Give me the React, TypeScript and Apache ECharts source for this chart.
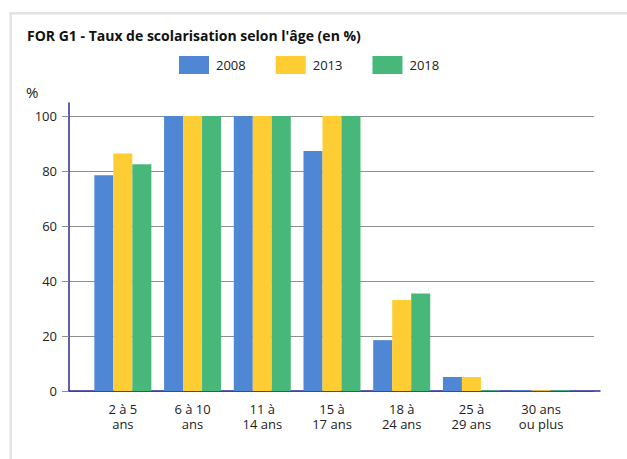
import React, { useEffect, useRef } from "react";
import * as echarts from "echarts";

const categories = [
  "2 à 5\nans",
  "6 à 10\nans",
  "11 à\n14 ans",
  "15 à\n17 ans",
  "18 à\n24 ans",
  "25 à\n29 ans",
  "30 ans\nou plus",
];
const seriesNames = ["2008", "2013", "2018"];
const values2008 = [78.5, 100, 100, 87.3, 18.5, 5.1, 0.3];
const values2013 = [86.4, 100, 100, 100, 33.1, 5.1, 0.3];
const values2018 = [82.5, 100, 100, 100, 35.5, 0.3, 0.3];
const colors = ["#4f87d4", "#fecd33", "#48b87a"];
const yTicks = { min: 0, max: 100, interval: 20 };

const FONT = "'Open Sans', 'Noto Sans', sans-serif";
const AXIS = "#2a2a9a";
const GRIDC = "#8e8e8e";

export default function App() {
  const ref = useRef<HTMLDivElement>(null);
  useEffect(() => {
    if (!ref.current) return;
    const chart = echarts.init(ref.current, null, { renderer: "svg" });
    const all = [values2008, values2013, values2018];
    chart.setOption({
      animation: false,
      textStyle: { fontFamily: FONT },
      title: {
        text: "FOR G1 - Taux de scolarisation selon l'âge (en %)",
        left: 22,
        top: 23,
        textStyle: { fontFamily: FONT, fontSize: 14, fontWeight: "bold", color: "#111" },
      },
      legend: {
        left: 174,
        top: 51,
        itemWidth: 30,
        itemHeight: 18,
        itemGap: 30,
        icon: "rect",
        data: seriesNames,
        textStyle: { fontFamily: FONT, fontSize: 13, color: "#222", padding: [0, 0, 0, 2] },
      },
      graphic: [
        { type: "rect", shape: { x: 9.5, y: 12, width: 618, height: 2.5 }, style: { fill: "#e3e3e3" }, silent: true },
        { type: "rect", shape: { x: 9.5, y: 12, width: 2.5, height: 447 }, style: { fill: "#e3e3e3" }, silent: true },
        { type: "text", left: 26, top: 84, style: { text: "%", font: `15px ${FONT}`, fill: "#222" } },
      ],
      grid: [
        { left: 88, right: 51, top: 116, bottom: 68 },
        { left: 69, right: 33, top: 116, bottom: 68 },
        { left: 69, right: 27, top: 103, bottom: 68 },
      ],
      xAxis: [
        {
          gridIndex: 0,
          type: "category",
          data: categories,
          axisLine: { show: false },
          axisTick: { show: false },
          axisLabel: { fontFamily: FONT, fontSize: 13, lineHeight: 15, color: "#222", margin: 10, interval: 0 },
        },
        { gridIndex: 1, type: "value", show: false, min: 0, max: 1 },
        {
          gridIndex: 2,
          type: "value",
          min: 0,
          max: 1,
          axisLine: { show: true, lineStyle: { color: AXIS, width: 1.5 } },
          axisTick: { show: false },
          axisLabel: { show: false },
          splitLine: { show: false },
        },
      ],
      yAxis: [
        { gridIndex: 0, type: "value", min: yTicks.min, max: yTicks.max, show: false },
        {
          gridIndex: 1,
          type: "value",
          min: yTicks.min,
          max: yTicks.max,
          interval: yTicks.interval,
          axisLine: { show: false },
          axisTick: { show: true, length: 7, lineStyle: { color: GRIDC } },
          splitLine: { show: true, lineStyle: { color: GRIDC, width: 1 } },
          axisLabel: { fontFamily: FONT, fontSize: 13, color: "#222", margin: 12 },
        },
        {
          gridIndex: 2,
          type: "value",
          min: 0,
          max: 1,
          axisLine: { show: true, lineStyle: { color: AXIS, width: 1.5 } },
          axisTick: { show: false },
          axisLabel: { show: false },
          splitLine: { show: false },
        },
      ],
      series: seriesNames.map((name, i) => ({
        name,
        type: "bar",
        xAxisIndex: 0,
        yAxisIndex: 0,
        data: all[i],
        barWidth: 19,
        barGap: "0%",
        itemStyle: { color: colors[i] },
        z: 3,
      })),
    });
    return () => chart.dispose();
  }, []);
  return (
    <div
      ref={ref}
      style={{ position: "absolute", left: 0, top: 0, width: 627, height: 459, background: "#fff" }}
    />
  );
}
